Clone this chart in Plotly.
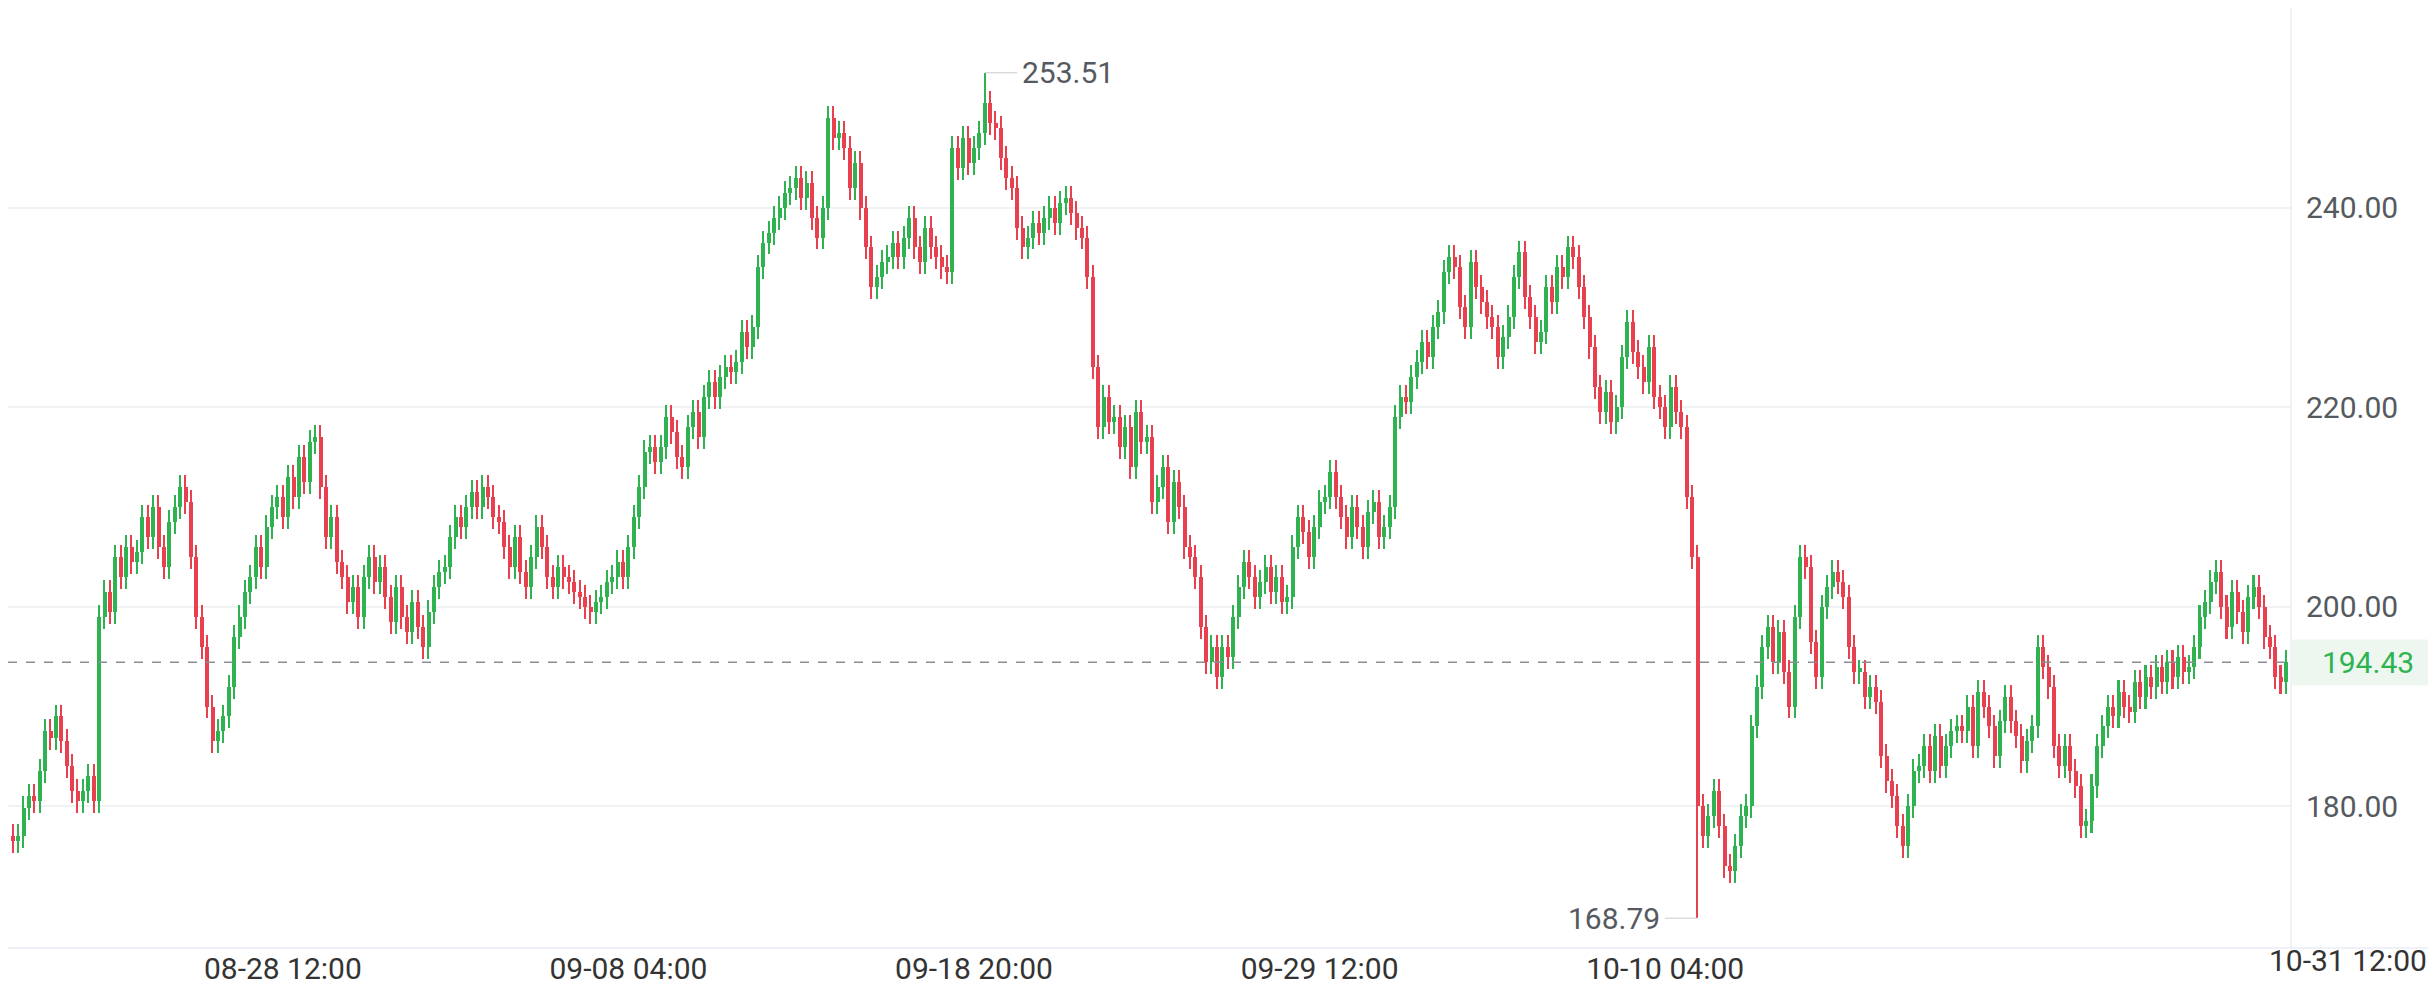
import plotly.graph_objects as go

closes = [
 176.5,177,179.8,181,180.5,183.5,187.5,186.8,189,186.5,184,181.5,180.5,181.5,183,180.5,199.0,
 201.5,199.5,205,203,206,204.5,205.5,209,207,210,206,204,208.5,210,212,210.5,
 205,199,196,190,186.5,
 187.5,189,192,197,199,201.5,203,206,
 204,208,210,211,209,213,211,215,212.5,216.5,217,
 212,207,209,204.5,203,200.5,202,199,
 203,205,202.5,204,201,198.5,202,199,197.5,200.5,198,196,199.5,202,
 203.5,204,207,209,208,210,211.5,210,212,211,
 209,208.5,206,204,207,203.5,202,205,208,206,203,202,204,203,202.5,201.5,201,200,199.5,200.5,
 201,202.5,203,204.5,203,206,209,212,215.5,216,
 214.5,216,219,217.5,215,214,218,219.5,217,221,222.5,221,223,224,223.5,224.5,227.5,226,228,
 234,236.5,237.5,239,240,241.5,242,243,
 241,242.5,239,237,240,249,247,247.5,246,242,244.5,240,236,232,
 233,234.5,235,236.5,235,237,239,236,234.5,238,236,235,234,233.5,
 246,244,247,244.5,246,247.5,250.5,248.5,
 248,245,243,242,238,236,237,238.5,237.5,
 239,240,238.5,240.5,241,239.5,238,237,
 233,224,218,
 221,218.5,219,216,218,214,219.5,216.5,217,210.5,212,214,208.5,212.5,210,206,205,
 203,198,194.5,196,193,196,195,199,202,
 204.5,203,201,202.5,204,201.5,203,200.5,201,206,209,
 207.5,205,208,210.5,211,213.5,211,209,207,210,208,206,209.5,210.5,207,208,210,219,
 221,220.5,223,224.5,226.5,225,228,229.5,
 233.5,235,234,230,228,234.5,232,230.5,229,228,225,227,229,233,235.5,231,229,226.5,227.5,232,230.5,234,233,236,235,
 232,229,226,222,219.5,221.5,218.5,220,225,
 228.5,225.5,224,222.5,226,221,220,218,222,219.5,218,211,205,
 180,177,179,181.5,178,174,173.5,176,
 179,180,188,192,196,198,194.5,197.5,193.5,190,199,205,
 204,196.5,193,200,202,203.5,202.5,201,196,
 193.5,193.5,191,192,190.5,185,182.5,181,178,176,180,183.5,
 184,186,183.5,187,184,186,187.5,188,187.5,190,186,191.5,190,188,185,188.5,191,188.5,187,184.5,186.5,188,
 196,194,192,186,
 184,186,183.5,182,178,178.5,
 182,186,188,190,189,191.5,190,189.5,192.5,191,193,192,194,
 192.5,194.5,193,195,193.5,194,196,199,
 200.5,202.5,203.5,200,198,201.5,199.5,197.5,201,202,200,197,196,
 193,192.5,194.43,
]
first_open = 177.0
extreme_high = {180: 253.51}
extreme_low = {312: 168.79}
last_price = 194.43
y_ticks = [180, 200, 220, 240]
x_tick_pos = [50, 114, 178, 242, 306]
x_tick_text = ["08-28 12:00", "09-08 04:00", "09-18 20:00", "09-29 12:00", "10-10 04:00"]
last_tick_text = "10-31 12:00"

idx = list(range(len(closes)))
opens = [first_open] + closes[:-1]
wick = 1.2
highs = [extreme_high.get(i, max(o, c) + wick) for i, (o, c) in enumerate(zip(opens, closes))]
lows = [extreme_low.get(i, min(o, c) - wick) for i, (o, c) in enumerate(zip(opens, closes))]

GREEN, RED = "#2FB350", "#E8404F"
colors = [GREEN if c >= o else RED for o, c in zip(opens, closes)]
body_base = [min(o, c) for o, c in zip(opens, closes)]
body_h = [max(abs(c - o), 0.35) for o, c in zip(opens, closes)]

fig = go.Figure()
fig.add_trace(go.Bar(x=idx, y=[h - l for h, l in zip(highs, lows)], base=lows, width=0.28,
                     marker=dict(color=colors, line=dict(width=0)), hoverinfo="skip",
                     showlegend=False))
fig.add_trace(go.Bar(x=idx, y=body_h, base=body_base, width=0.75,
                     marker=dict(color=colors, line=dict(width=0)), hoverinfo="skip",
                     showlegend=False))

fig.add_shape(type="line", xref="paper", x0=0, x1=1, y0=last_price, y1=last_price,
              line=dict(color="#8a8f96", width=1.5, dash="dash"))
fig.add_shape(type="line", xref="paper", yref="paper", x0=1, x1=1, y0=0, y1=1,
              line=dict(color="#e8edf2", width=1.5))
fig.add_shape(type="line", xref="paper", yref="paper", x0=0, x1=1.07, y0=0, y1=0,
              line=dict(color="#e8edf2", width=1.5))
hi_i = max(range(len(highs)), key=lambda i: highs[i])
lo_i = min(range(len(lows)), key=lambda i: lows[i])
fig.add_shape(type="line", x0=hi_i, x1=hi_i + 6, y0=highs[hi_i], y1=highs[hi_i],
              line=dict(color="#c8ccd0", width=1))
fig.add_shape(type="line", x0=lo_i - 6, x1=lo_i, y0=lows[lo_i], y1=lows[lo_i],
              line=dict(color="#c8ccd0", width=1))
fig.add_annotation(x=hi_i + 6.5, y=highs[hi_i], text=f"{highs[hi_i]:.2f}", showarrow=False,
                   xanchor="left", font=dict(size=30, color="#555a60"))
fig.add_annotation(x=lo_i - 6.5, y=lows[lo_i], text=f"{lows[lo_i]:.2f}", showarrow=False,
                   xanchor="right", font=dict(size=30, color="#555a60"))
fig.add_annotation(xref="paper", x=1.0, y=last_price, text=f"{last_price:.2f}", showarrow=False,
                   xanchor="left", width=150, height=43, align="center", bgcolor="#EDF7F0",
                   font=dict(size=30, color=GREEN))
fig.add_annotation(xref="paper", x=1.025, yref="paper", y=0, yshift=-32, text=last_tick_text,
                   showarrow=False, xanchor="center", font=dict(size=30, color="#333"))

fig.update_layout(
    width=2436, height=994, paper_bgcolor="white", plot_bgcolor="white",
    margin=dict(l=0, r=153, t=0, b=54), barmode="overlay", bargap=0,
    font=dict(family="Roboto, Noto Sans, sans-serif"),
    xaxis=dict(range=[-0.9, 421.9], showgrid=False,
               zeroline=False, tickvals=x_tick_pos, ticktext=x_tick_text,
               tickfont=dict(size=30, color="#333"), ticks=""),
    yaxis=dict(side="right", range=[165.8, 260.0], tickvals=y_ticks,
               ticktext=[f"{v:.2f}" for v in y_ticks], tickfont=dict(size=30, color="#555a60"),
               gridcolor="#f0f3f6", gridwidth=1.5, zeroline=False, ticks="",
               ticklabelstandoff=14),
)
fig.write_html("out.html")
